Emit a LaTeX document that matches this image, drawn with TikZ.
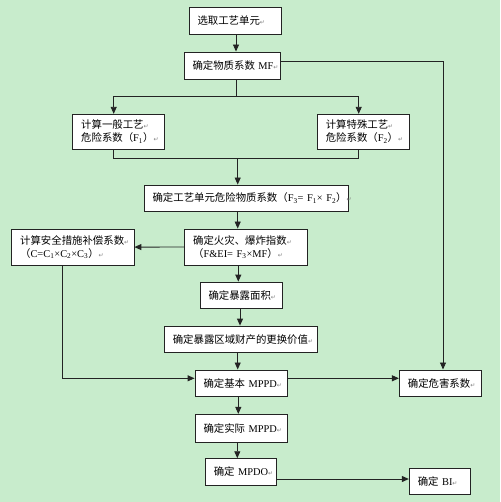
\documentclass[tikz,border=0pt]{standalone}
\usepackage{fontspec}
\setmainfont{Liberation Serif}
\newfontfamily\cjk{Noto Sans CJK SC}
\newfontfamily\dvs{DejaVu Sans}
\usetikzlibrary{arrows.meta}
\definecolor{bgc}{RGB}{200,236,204}
\definecolor{linec}{RGB}{35,35,35}
\newcommand\retm{{\dvs\fontsize{6}{6}\selectfont\textcolor{gray}{↵}}}
\newcommand\sub[1]{\textsubscript{#1}}
\begin{document}
\begin{tikzpicture}[x=1pt,y=-1pt,
  box/.style={draw=linec, fill=white, line width=0.9pt, inner xsep=8.5pt, inner ysep=0pt,
    align=left, font=\fontsize{10.4}{13}\selectfont},
  arr/.style={draw=linec, line width=0.9pt, -{Triangle[length=7pt,width=6pt]}},
  ln/.style={draw=linec, line width=0.9pt}]
\fill[bgc] (0,0) rectangle (500,502);
\useasboundingbox (0,0) rectangle (500,502);

\node[box, text width=75pt, minimum height=26.6pt] (sel) at (235,21) {\mbox{\cjk 选取工艺单元\retm}};
\node[box, text width=79pt, minimum height=27pt] (mf) at (232,65.5) {\mbox{\cjk 确定物质系数 \rmfamily MF\retm}};
\node[box, text width=74.6pt, minimum height=35pt] (f1) at (118.5,131.8) {\mbox{\cjk 计算一般工艺\retm}\\\mbox{{\cjk 危险系数（}F\sub{1}{\cjk ）}\retm}};
\node[box, text width=75pt, minimum height=35pt] (f2) at (363.3,131.8) {\mbox{\cjk 计算特殊工艺\retm}\\\mbox{{\cjk 危险系数（}F\sub{2}{\cjk ）}\retm}};
\node[box, text width=187.3pt, minimum height=26pt] (f3) at (246.2,198) {\mbox{{\cjk 确定工艺单元危险物质系数（}F\sub{3}= F\sub{1}× F\sub{2}{\cjk ）}\retm}};
\node[box, text width=105.3pt, minimum height=36pt] (fei) at (245.8,247) {\mbox{\cjk 确定火灾、爆炸指数\retm}\\\mbox{{\cjk （}F\&EI= F\sub{3}×MF{\cjk ）}\retm}};
\node[box, text width=105.3pt, minimum height=35.7pt] (cc) at (72.8,247.1) {\mbox{\cjk 计算安全措施补偿系数\retm}\\\mbox{{\cjk （}C=C\sub{1}×C\sub{2}×C\sub{3}{\cjk ）}\retm}};
\node[box, text width=65pt, minimum height=26.3pt] (area) at (241,295.2) {\mbox{\cjk 确定暴露面积\retm}};
\node[box, text width=136pt, minimum height=26.3pt] (val) at (240.8,339.2) {\mbox{\cjk 确定暴露区域财产的更换价值\retm}};
\node[box, text width=75pt, minimum height=26.7pt] (base) at (241,383.3) {\mbox{\cjk 确定基本 \rmfamily MPPD\retm}};
\node[box, text width=64.7pt, minimum height=26.7pt] (haz) at (440.2,383.3) {\mbox{\cjk 确定危害系数\retm}};
\node[box, text width=75pt, minimum height=27.7pt] (act) at (241,428.2) {\mbox{\cjk 确定实际 \rmfamily MPPD\retm}};
\node[box, text width=54.4pt, minimum height=26.6pt] (mpdo) at (241,472) {\mbox{\cjk 确定 \rmfamily MPDO\retm}};
\node[box, text width=44.4pt, minimum height=26pt] (bi) at (440,481.3) {\mbox{\cjk 确定 \rmfamily BI\retm}};

\coordinate (xa) at (236,0);
\coordinate (xb) at (237.7,0);
\coordinate (xc) at (238.3,0);
\coordinate (xd) at (240,0);
\coordinate (xe) at (237.3,0);
\coordinate (xh) at (443,0);
\coordinate (xl) at (113.7,0);
\coordinate (xr) at (358.7,0);
\coordinate (xcl) at (62.3,0);
\coordinate (ymf) at (0,61);
\coordinate (ybase) at (0,378.3);
\coordinate (ympdo) at (0,479);
\coordinate (split) at (236,96);
\coordinate (join) at (237.7,158.3);

\draw[arr] (sel.south -| xa) -- (mf.north -| xa);
\draw[arr] (mf.east |- ymf) -| (haz.north -| xh);
\draw[ln] (mf.south -| xa) -- (split);
\draw[arr] (split) -| (f1.north -| xl);
\draw[arr] (split) -| (f2.north -| xr);
\draw[ln] (f1.south -| xl) |- (join);
\draw[ln] (f2.south -| xr) |- (join);
\draw[arr] (join) -- (f3.north -| xb);
\draw[arr] (f3.south -| xb) -- (fei.north -| xb);
\draw[arr] (fei.west) -- (cc.east);
\draw[arr] (cc.south -| xcl) |- (base.west |- ybase);
\draw[arr] (fei.south -| xc) -- (area.north -| xc);
\draw[arr] (area.south -| xd) -- (val.north -| xd);
\draw[arr] (val.south -| xb) -- (base.north -| xb);
\draw[arr] (base.east |- ybase) -- (haz.west |- ybase);
\draw[arr] (base.south -| xc) -- (act.north -| xc);
\draw[arr] (act.south -| xe) -- (mpdo.north -| xe);
\draw[arr] (mpdo.east |- ympdo) -- (bi.west |- ympdo);
\end{tikzpicture}
\end{document}
